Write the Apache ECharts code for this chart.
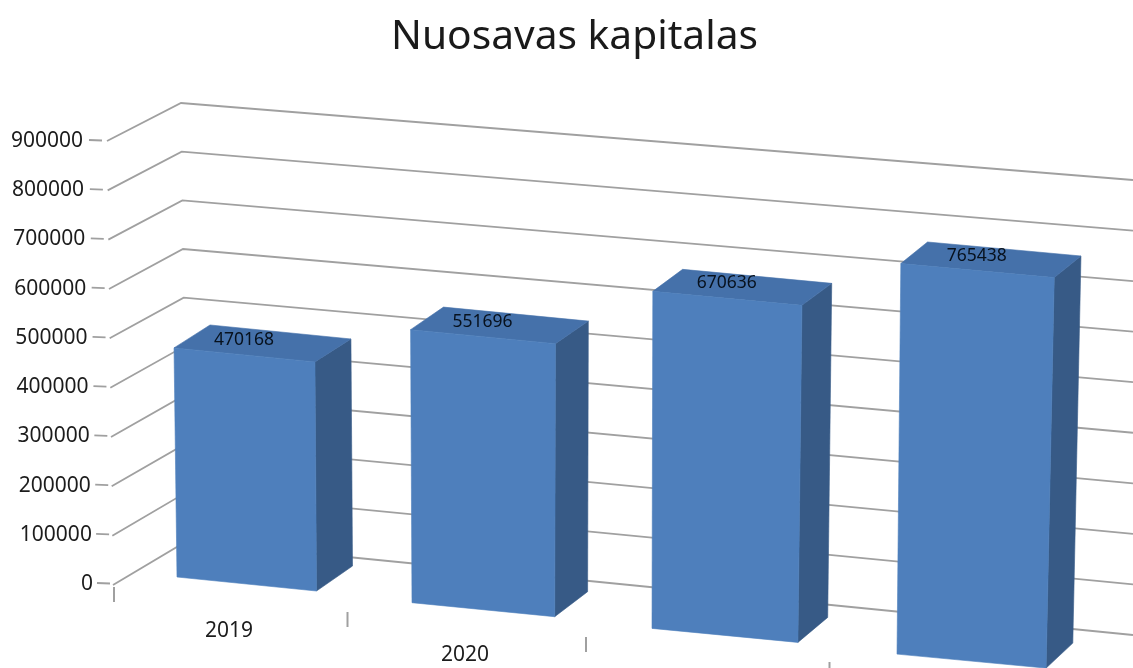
<!DOCTYPE html>
<html>
<head>
<meta charset="utf-8">
<style>html,body{margin:0;padding:0;background:#fff}#c{width:1133px;height:668px;filter:blur(0.5px)}</style>
<script src="https://cdn.jsdelivr.net/npm/echarts@6/dist/echarts.min.js"></script>
</head>
<body>
<div id="c"></div>
<script>
const titleText = 'Nuosavas kapitalas';
const categories = ['2019', '2020', '', ''];
const equityValues = [470168, 551696, 670636, 765438];
const yTicks = [0, 100000, 200000, 300000, 400000, 500000, 600000, 700000, 800000, 900000];

const FONT = '"Noto Sans", sans-serif';
const FRONT = '#4e7fbc', TOP = '#4571aa', SIDE = '#375a86', LINE = '#a0a0a0', TEXT = '#1c1c1c';
const chart = echarts.init(document.getElementById('c'));

function axisFraction(api, v) {
  const y0 = api.coord([0, 0])[1], yMax = api.coord([0, yTicks[yTicks.length - 1]])[1];
  return (y0 - api.coord([0, v])[1]) / (y0 - yMax);
}
function bandPos(api, i) {
  return (api.coord([i, 0])[0] - api.coord([0, 0])[0]) / api.size([1, 0])[0];
}
// Oblique projection of the 3D box onto the page
function project(s, side, h, t, back) {
  const x = 177 + 232.5 * s + 2.5 * s * s + side * (139.5 + 3.2 * s)
    + (side ? (-3 + 4.2 * s) : (-5.7 + 3.4 * s)) * t + back * (36 - 3.1 * s);
  const y = 577 + 25.7 * s + side * 14 - h * (0.99 + 0.0155 * s) - back * (25 - 4 * t);
  return [x, y];
}
function renderWall(params, api) {
  const v = api.value(1), py = api.coord([0, v])[1], t = axisFraction(api, v);
  const style = { stroke: LINE, lineWidth: 1.8, fill: null };
  return { type: 'group', children: [
    { type: 'polyline', shape: { points: [[113 - 6 * t, py + 2 - t], [187 - 6 * t, 541 - 438 * t], [1133, 635 - 455 * t]] }, style },
    { type: 'line', shape: { x1: 97 - 8 * t, y1: py, x2: 110 - 8 * t, y2: py + 0.5 }, style },
    { type: 'text', style: { text: String(v), x: 93 - 10 * t, y: py + 1, align: 'right', verticalAlign: 'middle', fill: TEXT, font: '21px ' + FONT } }
  ] };
}
function face(points, fill) {
  return { type: 'polygon', shape: { points }, style: { fill, stroke: fill, lineWidth: 0.6 } };
}
function renderBar(params, api) {
  const i = api.value(0), v = api.value(1), s = bandPos(api, i);
  const h = api.coord([i, 0])[1] - api.coord([i, v])[1], t = axisFraction(api, v);
  const p = (side, hh, tt, back) => project(s, side, hh, tt, back);
  const fl = p(0, h, t, 0), fr = p(1, h, t, 0), bl = p(0, 0, 0, 0), br = p(1, 0, 0, 0);
  const tbl = p(0, h, t, 1), tbr = p(1, h, t, 1), sb = p(1, 0, 0, 1);
  return { type: 'group', children: [
    face([fr, tbr, sb, br], SIDE),
    face([fl, tbl, tbr, fr], TOP),
    face([fl, fr, br, bl], FRONT),
    { type: 'text', style: { text: String(v), x: fl[0] + 70 + 2 * s, y: fl[1] - 8, align: 'center', verticalAlign: 'middle', fill: '#07111d', font: '17.5px ' + FONT } }
  ] };
}
function renderCategory(params, api) {
  const i = api.value(0), s = bandPos(api, i);
  const x = 114 + 231 * s + 2.5 * s * s, y = 587 + 25 * s;
  return { type: 'group', children: [
    { type: 'line', shape: { x1: x, y1: y, x2: x, y2: y + 15 }, style: { stroke: LINE, lineWidth: 2 } },
    { type: 'text', style: { text: categories[i], x: 229 + 236 * s, y: 631 + 24 * s, align: 'center', verticalAlign: 'middle', fill: TEXT, font: '21px ' + FONT } }
  ] };
}

chart.setOption({
  animation: false,
  backgroundColor: '#ffffff',
  title: { text: titleText, left: 569.5, top: 12, textAlign: 'center',
    textStyle: { fontFamily: FONT, fontWeight: 'normal', fontSize: 40.7, color: '#1a1a1a' } },
  grid: { left: 115, width: 960, top: 140, height: 443 },
  xAxis: { type: 'category', data: categories, show: false },
  yAxis: { type: 'value', min: 0, max: 900000, interval: 100000, show: false },
  series: [
    { type: 'custom', clip: false, silent: true, renderItem: renderWall, data: yTicks.map(v => [0, v]), z: 1 },
    { type: 'custom', clip: false, silent: true, renderItem: renderCategory, data: categories.map((c, i) => [i, 0]), z: 1 },
    { type: 'custom', clip: false, silent: true, renderItem: renderBar, data: equityValues.map((v, i) => [i, v]), z: 2 }
  ]
});
</script>
</body>
</html>
